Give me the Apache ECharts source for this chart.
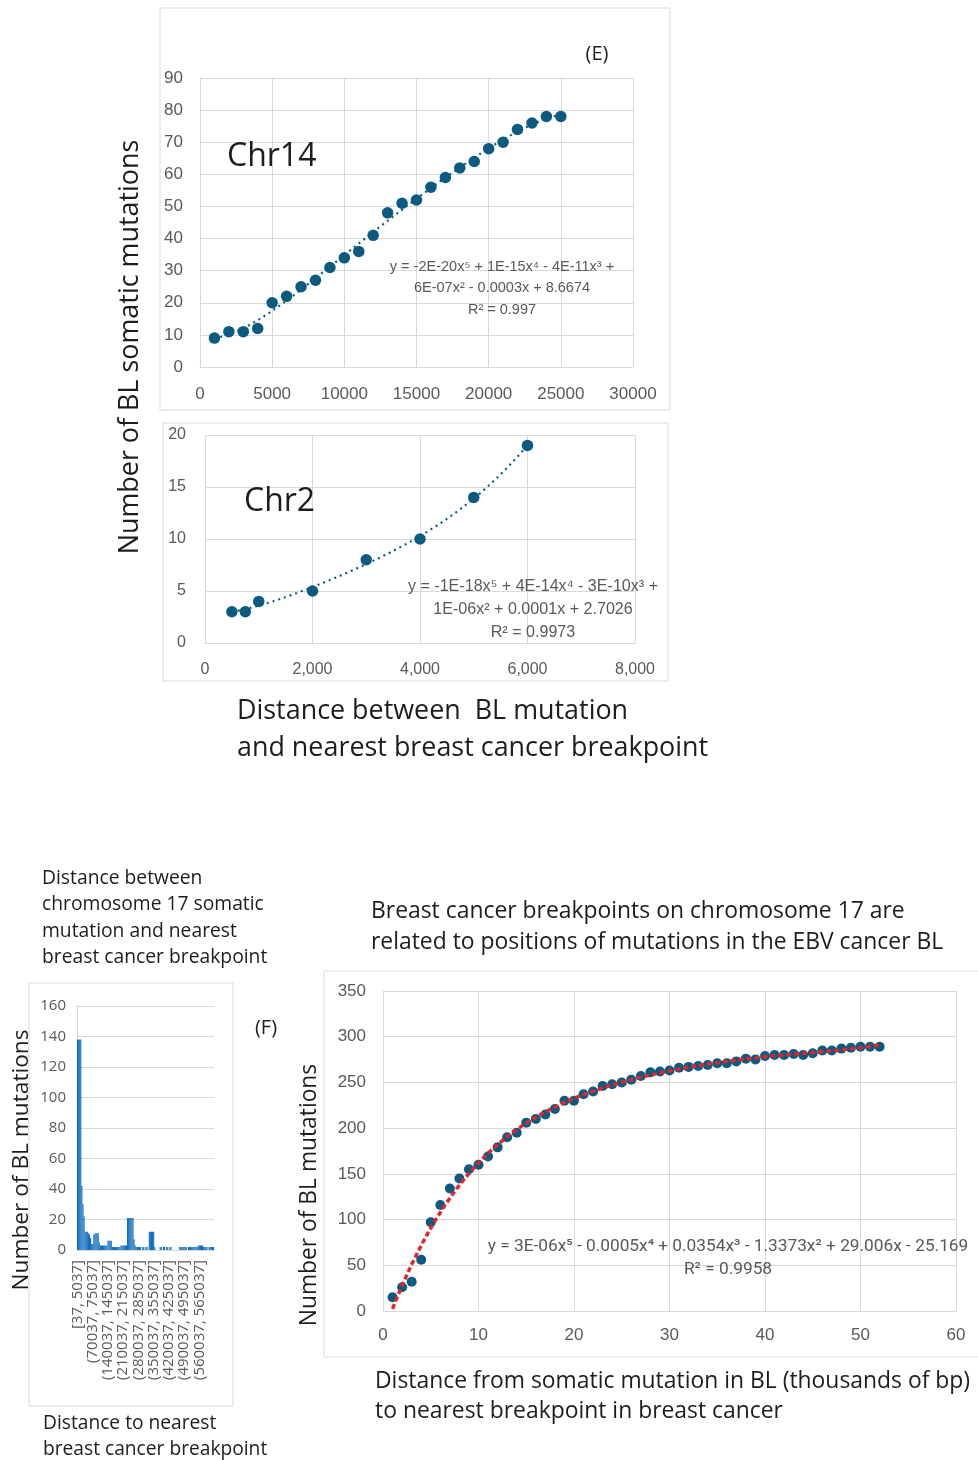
<!DOCTYPE html>
<html><head><meta charset="utf-8">
<script src="https://cdn.jsdelivr.net/npm/echarts@6/dist/echarts.min.js"></script>
<style>html,body{margin:0;padding:0;background:#fff}#c{width:978px;height:1460px}</style>
</head><body><div id="c"></div>
<script>
// ---------- DATA ----------
const chr14X = [1000,2000,3000,4000,5000,6000,7000,8000,9000,10000,11000,12000,13000,14000,15000,16000,17000,18000,19000,20000,21000,22000,23000,24000,25000];
const chr14Y = [9,11,11,12,20,22,25,27,31,34,36,41,48,51,52,56,59,62,64,68,70,74,76,78,78];
const chr2X = [500,750,1000,2000,3000,4000,5000,6000];
const chr2Y = [3,3,4,5,8,10,14,19];
const histCounts = [138,138,138,138,42,30,22,12,12,12,
 11,10,8,4,4,10,11,11,11,11,
 5,3,3,3,3,3,3,3,6,6,
 6,6,2,2,2,2,2,2,2,2,
 3,3,3,3,3,3,21,21,21,21,
 21,21,7,3,2,2,2,2,2,0,
 2,2,0,2,2,0,12,12,12,12,
 12,2,0,0,0,0,2,2,0,2,
 2,0,2,2,0,2,2,0,0,0,
 0,0,0,0,2,2,2,2,2,2,
 2,0,2,2,2,2,2,2,2,2,
 2,3,3,3,3,3,2,2,2,2,
 0,2,2,2,2,2];
const histTickLabels = ["[37, 5037]","(70037, 75037]","(140037, 145037]","(210037, 215037]","(280037, 285037]","(350037, 355037]","(420037, 425037]","(490037, 495037]","(560037, 565037]"];
const chr17X = [1,2,3,4,5,6,7,8,9,10,11,12,13,14,15,16,17,18,19,20,21,22,23,24,25,26,27,28,29,30,31,32,33,34,35,36,37,38,39,40,41,42,43,44,45,46,47,48,49,50,51,52];
const chr17Y = [15,26,32,56,97,116,134,145,155,160,169,179,190,195,206,210,215,221,230,230,237,240,246,248,250,253,257,261,262,263,266,267,268,269,271,271,273,276,275,279,280,280,281,280,282,285,285,287,288,289,289,289];

// ---------- polynomial least-squares trendline (from the data) ----------
function polyFit(xs, ys, deg){
  const n = xs.length;
  const mx = xs.reduce((a,b)=>a+b,0)/n;
  const sx = Math.max(...xs.map(v=>Math.abs(v-mx)));
  const t = xs.map(v=>(v-mx)/sx);
  const m = deg+1;
  const A = Array.from({length:m},()=>new Array(m+1).fill(0));
  for(let i=0;i<n;i++){
    for(let r=0;r<m;r++){
      for(let c=0;c<m;c++) A[r][c]+=Math.pow(t[i],r+c);
      A[r][m]+=ys[i]*Math.pow(t[i],r);
    }
  }
  for(let col=0;col<m;col++){
    let p=col;
    for(let r=col+1;r<m;r++) if(Math.abs(A[r][col])>Math.abs(A[p][col])) p=r;
    [A[col],A[p]]=[A[p],A[col]];
    for(let r=0;r<m;r++){
      if(r===col) continue;
      const f=A[r][col]/A[col][col];
      for(let c=col;c<=m;c++) A[r][c]-=f*A[col][c];
    }
  }
  const coef = A.map((row,i)=>row[m]/row[i]);
  return x=>{const tt=(x-mx)/sx;let s=0;for(let i=0;i<m;i++) s+=coef[i]*Math.pow(tt,i);return s;};
}
function curve(xs, ys, deg, steps){
  const f = polyFit(xs, ys, deg);
  const a = Math.min(...xs), b = Math.max(...xs);
  const out=[];
  for(let i=0;i<=steps;i++){const x=a+(b-a)*i/steps;out.push([x,f(x)]);}
  return out;
}
const zip=(a,b)=>a.map((v,i)=>[v,b[i]]);

// ---------- styles ----------
const GRID='#d9d9d9', TICK='#595959', DOT='#0b5b80', TITLE='#1d1d1d';
const TF='"Open Sans", sans-serif', NF='"Liberation Sans", Arial, sans-serif';

function valAxis(gi, min, max, interval, fs, margin, fmt){
  return {type:'value', gridIndex:gi, min, max, interval,
    axisLine:{show:true, lineStyle:{color:GRID,width:1}}, axisTick:{show:false},
    splitLine:{show:true, lineStyle:{color:GRID,width:1}},
    axisLabel:{color:TICK, fontSize:fs, fontFamily:NF, margin, formatter:fmt||(v=>String(v))}};
}
const comma = v=>v.toLocaleString('en-US');

function txt(x,y,text,fs,opts={}){
  return {type:'text', x, y, rotation:opts.rot||0, z:10, silent:true,
    style:{text, fontSize:fs, fontFamily:opts.ff||TF, fill:opts.fill||TITLE,
      align:opts.align||'left', verticalAlign:'middle', lineHeight:opts.lh||fs*1.2}};
}
function box(x,y,w,h){
  return {type:'rect', shape:{x,y,width:w,height:h}, z:0, silent:true,
    style:{fill:'none', stroke:GRID, lineWidth:1}};
}

const chart = echarts.init(document.getElementById('c'), null, {renderer:'canvas'});
chart.setOption({
  animation:false,
  backgroundColor:'#fff',
  grid:[
    {left:200, top:78, width:433, height:289},
    {left:205, top:435, width:430, height:208},
    {left:77, top:1006, width:137, height:244},
    {left:383, top:991, width:573, height:320}
  ],
  xAxis:[
    valAxis(0,0,30000,5000,17,19),
    valAxis(1,0,8000,2000,16,19,comma),
    {type:'category', gridIndex:2, data:histCounts.map((v,i)=>String(i)),
      axisLine:{show:true,lineStyle:{color:GRID}}, axisTick:{show:false},
      axisLabel:{interval:13, rotate:90, color:TICK, fontSize:15, lineHeight:11, fontFamily:TF, margin:10,
        showMinLabel:true, showMaxLabel:true, hideOverlap:false,
        formatter:(v,i)=>histTickLabels[Math.round(i/14)]||''}},
    valAxis(3,0,60,10,17,16)
  ],
  yAxis:[
    valAxis(0,0,90,10,17,17),
    valAxis(1,0,20,5,16,19),
    {type:'value', gridIndex:2, min:0, max:160, interval:20,
      axisLine:{show:true,lineStyle:{color:GRID}}, axisTick:{show:false},
      splitLine:{show:true,lineStyle:{color:GRID}},
      axisLabel:{color:TICK,fontSize:15,fontFamily:TF,margin:11}},
    valAxis(3,0,350,50,17,17)
  ],
  series:[
    {type:'scatter', xAxisIndex:0, yAxisIndex:0, data:zip(chr14X,chr14Y), symbolSize:11.5, itemStyle:{color:DOT,opacity:1}, z:3},
    {type:'line', xAxisIndex:0, yAxisIndex:0, data:curve(chr14X,chr14Y,5,200), showSymbol:false, symbol:'none', lineStyle:{color:DOT,width:2.2,type:[2,4]}, z:4},
    {type:'scatter', xAxisIndex:1, yAxisIndex:1, data:zip(chr2X,chr2Y), symbolSize:11.5, itemStyle:{color:DOT,opacity:1}, z:3},
    {type:'line', xAxisIndex:1, yAxisIndex:1, data:curve(chr2X,chr2Y,5,200), showSymbol:false, symbol:'none', lineStyle:{color:DOT,width:2.2,type:[2,4]}, z:4},
    {type:'bar', xAxisIndex:2, yAxisIndex:2, data:histCounts, barCategoryGap:'0%', itemStyle:{color:'#0f6cbd'}},
    {type:'scatter', xAxisIndex:3, yAxisIndex:3, data:zip(chr17X,chr17Y), symbolSize:10, itemStyle:{color:DOT,opacity:1}, z:3},
    {type:'line', xAxisIndex:3, yAxisIndex:3, data:curve(chr17X,chr17Y,5,300), showSymbol:false, symbol:'none', clip:false, lineStyle:{color:'#e3242b',width:3.5,type:[5,3]}, z:4}
  ],
  graphic:[
    box(160,8,510,402),
    box(163,423,505,258),
    box(29,983,204,423),
    box(324,971,660,386),
    txt(597,54,'(E)',20,{align:'center'}),
    txt(227,157,'Chr14',32),
    txt(244,502,'Chr2',32),
    txt(130,347,'Number of BL somatic mutations',26.9,{rot:Math.PI/2,align:'center'}),
    txt(502,288,'y = -2E-20x⁵ + 1E-15x⁴ - 4E-11x³ +\n6E-07x² - 0.0003x + 8.6674\nR² = 0.997',14.5,{ff:NF,fill:TICK,align:'center',lh:21.5}),
    txt(533,610,'y = -1E-18x⁵ + 4E-14x⁴ - 3E-10x³ +\n1E-06x² + 0.0001x + 2.7026\nR² = 0.9973',16.1,{ff:NF,fill:TICK,align:'center',lh:23}),
    txt(237,730,'Distance between  BL mutation\nand nearest breast cancer breakpoint',26.9,{lh:37}),
    txt(42,918,'Distance between\nchromosome 17 somatic\nmutation and nearest\nbreast cancer breakpoint',19.3,{lh:26.3}),
    txt(22,1160,'Number of BL mutations',22.7,{rot:Math.PI/2,align:'center'}),
    txt(266,1028,'(F)',20,{align:'center'}),
    txt(43,1437,'Distance to nearest\nbreast cancer breakpoint',19.2,{lh:26}),
    txt(371,927,'Breast cancer breakpoints on chromosome 17 are\nrelated to positions of mutations in the EBV cancer BL',22.9,{lh:31}),
    txt(310,1195,'Number of BL mutations',22.8,{rot:Math.PI/2,align:'center'}),
    txt(728,1258,'y = 3E-06x⁵ - 0.0005x⁴ + 0.0354x³ - 1.3373x² + 29.006x - 25.169\nR² = 0.9958',17.3,{ff:'Roboto, sans-serif',fill:TICK,align:'center',lh:23}),
    txt(375,1396,'Distance from somatic mutation in BL (thousands of bp)\nto nearest breakpoint in breast cancer',22.9,{lh:30})
  ]
});
</script></body></html>
